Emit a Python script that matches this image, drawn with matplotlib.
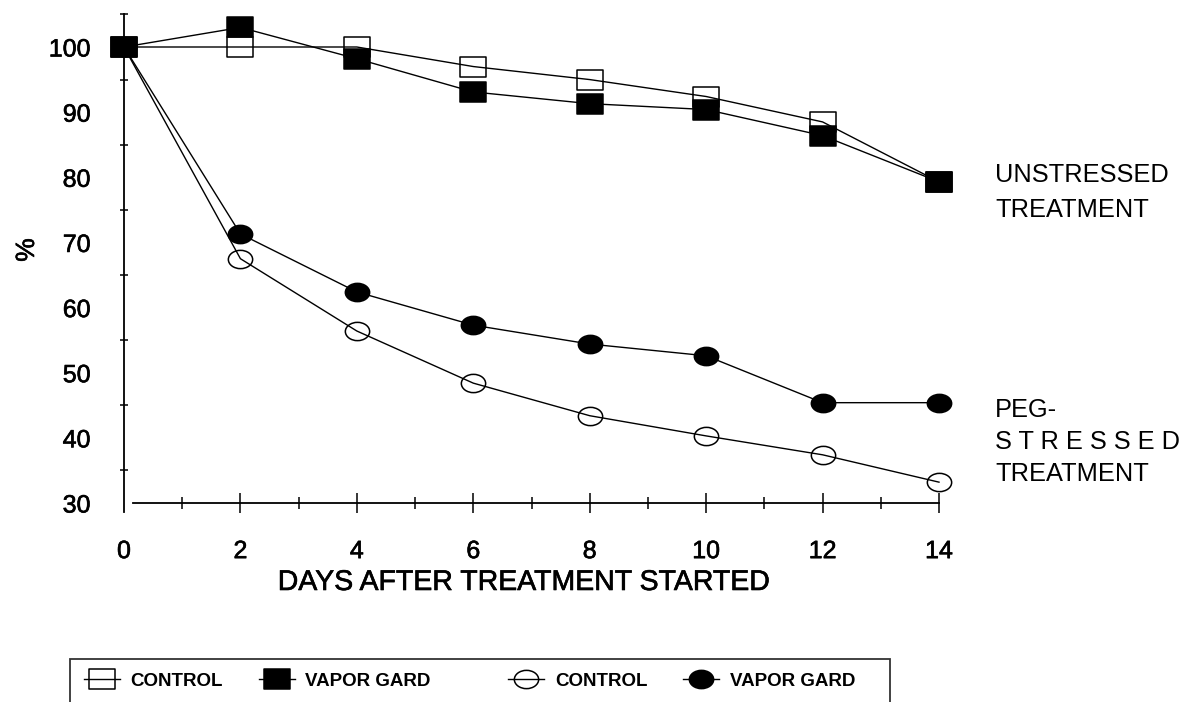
import matplotlib
matplotlib.use("Agg")
import matplotlib.pyplot as plt
import numpy as np
from matplotlib.path import Path
from matplotlib.ticker import FixedLocator, NullFormatter
import matplotlib.patheffects as pe

plt.rcParams['font.family'] = ['Liberation Sans', 'DejaVu Sans']

days = [0, 2, 4, 6, 8, 10, 12, 14]
unstressed_control = [100, 100, 100, 97, 95, 92.4, 88.5, 79.3]
unstressed_vapor = [100, 103, 98.2, 93.1, 91.3, 90.4, 86.4, 79.3]
peg_control = [100, 67.5, 56.4, 48.4, 43.4, 40.3, 37.4, 33.2]
peg_vapor = [100, 71.3, 62.4, 57.3, 54.4, 52.6, 45.4, 45.4]

x_major = [0, 2, 4, 6, 8, 10, 12, 14]
x_minor = [1, 3, 5, 7, 9, 11, 13]
y_major = [30, 40, 50, 60, 70, 80, 90, 100]
y_minor = [35, 45, 55, 65, 75, 85, 95, 105]

W, H = 1182, 702
fig = plt.figure(figsize=(W / 100, H / 100), dpi=100)

# axes geometry (pixel mapping)
x0_px, x14_px = 124, 939
y30_px, y100_px = 503, 47
xppu = (x14_px - x0_px) / 14
yppu = (y30_px - y100_px) / 70
xlim = (-0.5, 14.5)
ylim = (28.5, 106)
left = (x0_px + xlim[0] * xppu) / W
right = (x0_px + xlim[1] * xppu) / W
bot_px = y30_px - (ylim[0] - 30) * yppu
top_px = y30_px - (ylim[1] - 30) * yppu
ax = fig.add_axes([left, 1 - bot_px / H, right - left, (bot_px - top_px) / H])
ax.set_xlim(*xlim)
ax.set_ylim(*ylim)

# markers
sq = Path([(-1.37, -1), (1.37, -1), (1.37, 1), (-1.37, 1), (-1.37, -1)],
          [Path.MOVETO, Path.LINETO, Path.LINETO, Path.LINETO, Path.CLOSEPOLY])
circ = Path.unit_circle()
ell = Path(circ.vertices * np.array([1.33, 1.0]), circ.codes)

lw = 1.0
kw = dict(color='black', lw=lw, markeredgewidth=1.1, markeredgecolor='black')
l_pc, = ax.plot(days, peg_control, marker=ell, ms=17.5, markerfacecolor='none', zorder=3, **kw)
l_pv, = ax.plot(days, peg_vapor, marker=ell, ms=17.5, markerfacecolor='black', zorder=4, **kw)
l_uc, = ax.plot(days, unstressed_control, marker=sq, ms=19, markerfacecolor='none', zorder=5, **kw)
l_uv, = ax.plot(days, unstressed_vapor, marker=sq, ms=19, markerfacecolor='black', zorder=6, **kw)

# spines
for s in ['top', 'right']:
    ax.spines[s].set_visible(False)
ax.spines['left'].set_position(('data', 0))
ax.spines['bottom'].set_position(('data', 30))
ax.spines['left'].set_bounds(28.6, 105)
ax.spines['bottom'].set_bounds(0.15, 14)
for s in ['left', 'bottom']:
    ax.spines[s].set_linewidth(1.3)
    ax.spines[s].set_zorder(1)

ax.xaxis.set_major_locator(FixedLocator(x_major))
ax.xaxis.set_minor_locator(FixedLocator(x_minor))
ax.set_xticklabels([str(v) for v in x_major])
ax.yaxis.set_major_locator(FixedLocator(y_major))
ax.yaxis.set_minor_locator(FixedLocator(y_minor))
ax.set_yticklabels([str(v) for v in y_major])
ax.yaxis.set_minor_formatter(NullFormatter())

ax.tick_params(axis='x', which='major', direction='inout', length=14, width=1.1, pad=19, labelsize=18)
ax.tick_params(axis='x', which='minor', direction='inout', length=8.6, width=1.1)
ax.tick_params(axis='y', which='major', direction='inout', length=0, pad=24, labelsize=18)
ax.tick_params(axis='y', which='minor', direction='inout', length=6, width=1.1)
ax.xaxis.get_major_ticks()[0].tick1line.set_visible(False)

heavy = [pe.withStroke(linewidth=0.45, foreground='black')]
for t in ax.get_xticklabels() + ax.get_yticklabels():
    t.set_path_effects(heavy)

fig.text(27 / W, 1 - 250 / H, '%', rotation=90, ha='center', va='center', fontsize=19,
         path_effects=heavy)
fig.text(524 / W, 1 - 583 / H, 'DAYS AFTER TREATMENT STARTED', ha='center', va='center',
         fontsize=20.5, path_effects=heavy)

rk = dict(ha='left', va='center', fontsize=18.3)
fig.text(995 / W, 1 - 175 / H, 'UNSTRESSED', **rk)
fig.text(995 / W, 1 - 210 / H, 'TREATMENT', **rk)
fig.text(995 / W, 1 - 410 / H, 'PEG-', **rk)
fig.text(995 / W, 1 - 442 / H, 'S T R E S S E D', **rk)
fig.text(995 / W, 1 - 474 / H, 'TREATMENT', **rk)

# legend
handles = [l_uc, l_uv, l_pc, l_pv]
labels = ['CONTROL', 'VAPOR GARD' + ' ' * 8, 'CONTROL', 'VAPOR GARD' + ' ' * 4]
leg = fig.legend(handles, labels, ncol=4, loc='upper left',
                 bbox_to_anchor=(70 / W, 1 - 659 / H),
                 frameon=True, fancybox=False, edgecolor='black',
                 prop={'weight': 'bold', 'size': 13.5},
                 handlelength=1.92, handletextpad=0.58, columnspacing=1.9,
                 borderpad=0.72, markerscale=1.0, borderaxespad=0)
leg.get_frame().set_linewidth(1.3)

fig.savefig('out.png', dpi=100, facecolor='white')
